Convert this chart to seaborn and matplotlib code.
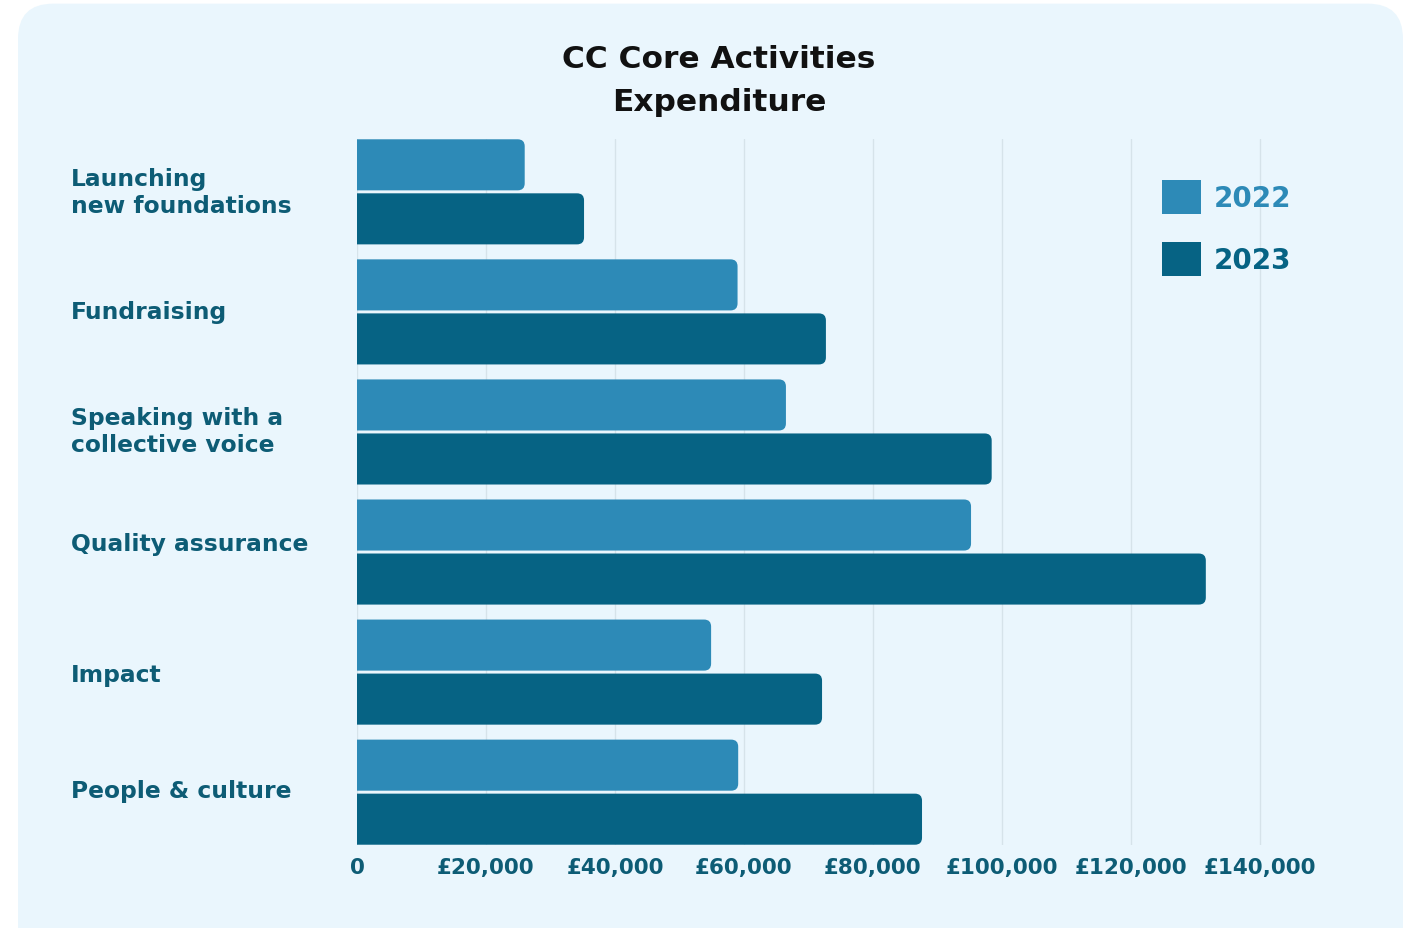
import pandas as pd
import matplotlib.pyplot as plt
import matplotlib.transforms as mtransforms
import seaborn as sns
from matplotlib.patches import FancyBboxPatch, Patch

categories = ["Launching\nnew foundations", "Fundraising", "Speaking with a\ncollective voice",
              "Quality assurance", "Impact", "People & culture"]
years = ["2022", "2023"]
spend_2022 = [26000, 59000, 66500, 95200, 54900, 59100]
spend_2023 = [35200, 72700, 98400, 131600, 72100, 87600]
x_ticks = [0, 20000, 40000, 60000, 80000, 100000, 120000, 140000]
x_tick_labels = ["0", "£20,000", "£40,000", "£60,000", "£80,000", "£100,000", "£120,000", "£140,000"]

c2022 = "#2d8ab7"
c2023 = "#066384"
text_col = "#0d5c75"
panel = "#eaf6fd"

df = pd.DataFrame({
    "category": categories * 2,
    "year": ["2022"] * 6 + ["2023"] * 6,
    "value": spend_2022 + spend_2023,
})

sns.set_style("white")
plt.rcParams["font.family"] = ["DejaVu Sans"]

fig = plt.figure(figsize=(14.06, 9.29), dpi=100)
fig.patch.set_facecolor("white")
# rounded light-blue card behind everything
card = FancyBboxPatch((18 / 1406, -0.05), 1385 / 1406, 1.045, boxstyle="round,pad=0,rounding_size=0.025",
                      transform=fig.transFigure, fc=panel, ec="none", zorder=-10, mutation_aspect=1406 / 929)
fig.patches.append(card)

ax = fig.add_axes([357 / 1406, (929 - 846) / 929, 967.5 / 1406, 706 / 929])
ax.set_facecolor("none")

sns.barplot(data=df, x="value", y="category", hue="year", orient="h",
            palette=[c2022, c2023], width=0.9, gap=0.055, saturation=1, ax=ax)

ax.set_xlim(0, 150000)
ax.set_ylim(5.44, -0.44)

handles = [Patch(fc=c2022, ec="none"), Patch(fc=c2023, ec="none")]
leg = ax.legend(handles, years, loc="upper left", bbox_to_anchor=(1137 / 1406, 1 - 156 / 929),
                bbox_transform=fig.transFigure, frameon=False, handlelength=1.4, handleheight=1.5,
                handletextpad=0.45, labelspacing=1.0, prop={"size": 20, "weight": "bold"})
for t, c in zip(leg.get_texts(), [c2022, c2023]):
    t.set_color(c)

# round the right-hand ends of the bars
r_px = 7
px_per_x = (967.5) / 150000
px_per_y = 706 / 5.88
rx = r_px / px_per_x
aspect = (r_px / px_per_y) / rx
for bars in ax.containers:
    for rect in bars:
        x0, y0 = rect.get_x(), rect.get_y()
        w, h = rect.get_width(), rect.get_height()
        fc = rect.get_facecolor()
        rect.set_visible(False)
        ax.add_patch(FancyBboxPatch((x0 - rx * 2, y0), w + rx * 2, h,
                                    boxstyle=f"round,pad=0,rounding_size={rx}",
                                    mutation_aspect=aspect, fc=fc, ec="none", zorder=3))

ax.set_xticks(x_ticks)
ax.set_xticklabels(x_tick_labels, fontsize=15.5, fontweight="bold", color=text_col)
ax.set_yticks(range(len(categories)))
ax.set_yticklabels(categories, fontsize=16.8, fontweight="bold", color=text_col, ha="left")
ax.tick_params(axis="y", length=0, pad=206)
ax.tick_params(axis="x", length=0, pad=9)

# small vertical nudges so labels sit where they do in the original
nudges = [4, 3, 5, 11, 0, 4]
for lab, dy in zip(ax.get_yticklabels(), nudges):
    lab.set_transform(lab.get_transform() + mtransforms.ScaledTranslation(0, dy / 100, fig.dpi_scale_trans))

ax.grid(axis="x", color="#d6e3ea", lw=1)
ax.set_axisbelow(True)
for s in ax.spines.values():
    s.set_visible(False)
ax.set_xlabel("")
ax.set_ylabel("")

fig.text(719 / 1406, 1 - 81 / 929, "CC Core Activities\nExpenditure", ha="center", va="center",
         fontsize=22.5, fontweight="bold", color="#111111", linespacing=1.6)

fig.savefig("out.png", dpi=100)
